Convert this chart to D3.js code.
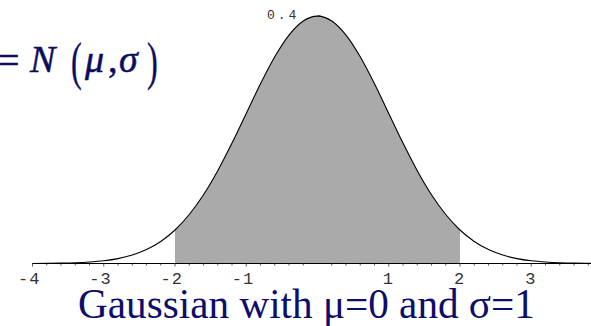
<!DOCTYPE html>
<html>
<head>
<meta charset="utf-8">
<script src="https://cdn.jsdelivr.net/npm/d3@7/dist/d3.min.js"></script>
<style>
  html, body { margin: 0; padding: 0; background: #fff; }
  svg { display: block; }
  .tick-label { font-family: "Liberation Mono", "DejaVu Sans Mono", monospace; font-size: 17px; fill: #333; }
  .peak-label { font-family: "Liberation Mono", "DejaVu Sans Mono", monospace; font-size: 13px; fill: #333; letter-spacing: 3px; }
</style>
</head>
<body>
<svg id="chart" width="591" height="326"></svg>
<script>
// Standard normal density sampled every 0.2 from -4 to 4
const xs = [-4.0, -3.8, -3.6, -3.4, -3.2, -3.0, -2.8, -2.6, -2.4, -2.2, -2.0,
            -1.8, -1.6, -1.4, -1.2, -1.0, -0.8, -0.6, -0.4, -0.2, 0.0,
            0.2, 0.4, 0.6, 0.8, 1.0, 1.2, 1.4, 1.6, 1.8, 2.0,
            2.2, 2.4, 2.6, 2.8, 3.0, 3.2, 3.4, 3.6, 3.8, 4.0];
const density = [0.0001, 0.0003, 0.0006, 0.0012, 0.0024, 0.0044, 0.0079, 0.0136, 0.0224, 0.0355, 0.0540,
                 0.0790, 0.1109, 0.1497, 0.1942, 0.2420, 0.2897, 0.3332, 0.3683, 0.3910, 0.3989,
                 0.3910, 0.3683, 0.3332, 0.2897, 0.2420, 0.1942, 0.1497, 0.1109, 0.0790, 0.0540,
                 0.0355, 0.0224, 0.0136, 0.0079, 0.0044, 0.0024, 0.0012, 0.0006, 0.0003, 0.0001];
const shadeRange = [-2, 2];
const xTickValues = [-4, -3, -2, -1, 1, 2, 3];
const xTickDigits = ["4", "3", "2", "1", "1", "2", "3"];
const yTickValue = 0.4;
const yTickLabel = "0.4";
const title = "Gaussian with \u03bc=0 and \u03c3=1";

const points = xs.map((x, i) => ({ x, y: density[i] }));

const svg = d3.select("#chart");
const x = d3.scaleLinear().domain([-4, 2]).range([32.5, 460]);
const y = d3.scaleLinear().domain([0, 0.4]).range([263.5, 15.4]);

// shaded area between -2 and 2
const shaded = points.filter(p => p.x >= shadeRange[0] - 1e-9 && p.x <= shadeRange[1] + 1e-9);
svg.append("path")
  .datum(shaded)
  .attr("fill", "#aaaaaa")
  .attr("d", d3.area().x(d => x(d.x)).y0(y(0)).y1(d => y(d.y)).curve(d3.curveMonotoneX));

// axis line
svg.append("line")
  .attr("x1", x(-4)).attr("x2", 591)
  .attr("y1", y(0)).attr("y2", y(0))
  .attr("stroke", "#000").attr("stroke-width", 1.2);

// minor ticks every 0.2, major at integers (none at origin)
const minor = d3.range(-20, 20).map(k => k / 5).filter(v => Math.abs(v) > 1e-9 && x(v) < 591);
svg.append("g").selectAll("line")
  .data(minor)
  .join("line")
  .attr("x1", d => x(d)).attr("x2", d => x(d))
  .attr("y1", y(0)).attr("y2", d => y(0) + (Math.abs(d - Math.round(d)) < 1e-9 ? 3 : 2))
  .attr("stroke", "#333").attr("stroke-width", 0.8);

// density curve
svg.append("path")
  .datum(points)
  .attr("fill", "none")
  .attr("stroke", "#000")
  .attr("stroke-width", 1.1)
  .attr("d", d3.line().x(d => x(d.x)).y(d => y(d.y)).curve(d3.curveMonotoneX));

// x tick labels (minus sign set apart, typewriter style)
const lab = svg.append("g");
xTickValues.forEach((v, i) => {
  if (v < 0) {
    lab.append("text").attr("class", "tick-label").attr("x", x(v) - 9.5).attr("y", 284).attr("text-anchor", "middle").text("-");
    lab.append("text").attr("class", "tick-label").attr("x", x(v) + 1.8).attr("y", 284).attr("text-anchor", "middle").text(xTickDigits[i]);
  } else {
    lab.append("text").attr("class", "tick-label").attr("x", x(v) - 1).attr("y", 284).attr("text-anchor", "middle").text(xTickDigits[i]);
  }
});

// y tick at the top of the peak
svg.append("line")
  .attr("x1", x(0)).attr("x2", x(0) + 3)
  .attr("y1", y(yTickValue)).attr("y2", y(yTickValue))
  .attr("stroke", "#333").attr("stroke-width", 0.8);
svg.append("text")
  .attr("class", "peak-label")
  .attr("x", 267).attr("y", y(yTickValue) + 4)
  .text(yTickLabel);

// formula in the top-left corner
const f = svg.append("g")
  .attr("fill", "#0d0d5e")
  .attr("stroke", "#0d0d5e")
  .attr("stroke-width", 0.5)
  .attr("font-family", "'Liberation Serif', 'Times New Roman', serif");
f.append("text").attr("x", -2).attr("y", 73).attr("font-size", 38).text("=");
f.append("text").attr("x", 30).attr("y", 72).attr("font-size", 38).attr("font-style", "italic").text("N");
f.append("text").attr("transform", "translate(71,79) scale(0.85,1.4)").attr("font-size", 38).attr("stroke-width", 0.3).text("(");
f.append("text").attr("x", 85).attr("y", 72).attr("font-size", 38).attr("font-style", "italic").text("\u03bc");
f.append("text").attr("x", 108).attr("y", 72).attr("font-size", 38).text(",");
f.append("text").attr("x", 119).attr("y", 72).attr("font-size", 38).attr("font-style", "italic").text("\u03c3");
f.append("text").attr("transform", "translate(147,79) scale(0.85,1.4)").attr("font-size", 38).attr("stroke-width", 0.3).text(")");

// caption
svg.append("text")
  .attr("x", 306.5).attr("y", 318)
  .attr("text-anchor", "middle")
  .attr("font-family", "'Liberation Serif', 'Times New Roman', serif")
  .attr("font-size", 41.2)
  .attr("fill", "#0d0d6b")
  .text(title);
</script>
</body>
</html>
